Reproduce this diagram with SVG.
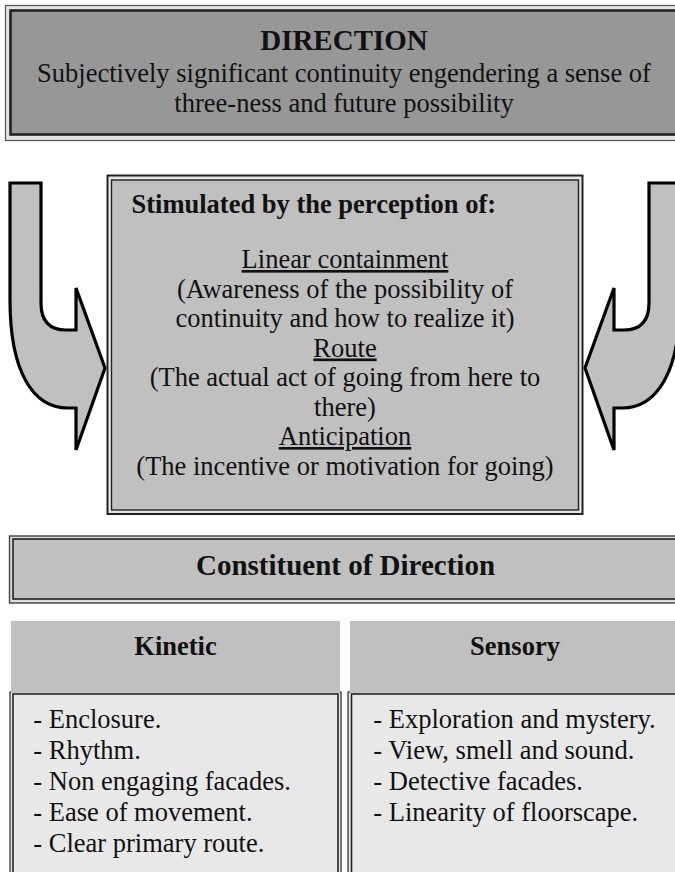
<svg xmlns="http://www.w3.org/2000/svg" width="675" height="872" viewBox="0 0 675 872">
  <style>
    text { font-family: "Liberation Serif", "Times New Roman", serif; fill: #111; }
    .title { font-size: 29px; font-weight: bold; text-anchor: middle; }
    .head { font-size: 26.5px; font-weight: bold; }
    .body { font-size: 26.5px; }
    .mid { text-anchor: middle; }
    .ul { text-decoration: underline; }
    .arrow { fill: #c0c0c0; stroke: #000; stroke-width: 3.2; stroke-linejoin: miter; }
    .frame-out { stroke: #444; stroke-width: 1.4; }
    .frame-in { stroke: #222; stroke-width: 1.6; }
  </style>
  <defs>
    <!-- bent block arrow: vertical shaft turning right into a head -->
    <path id="bentArrow" d="M10,183 H41 V303 Q41,330 66,330 H76 V288 L105,368 L76,450 V408 H68 C33,408 10,372 10,300 Z"/>
  </defs>

  <rect width="675" height="872" fill="#fff"/>

  <!-- DIRECTION banner -->
  <g id="direction">
    <rect x="5.5" y="5.5" width="680" height="135" fill="#e4e4e4" stroke="#555" stroke-width="1.2"/>
    <rect x="10.5" y="10.5" width="670" height="124" fill="#979797" stroke="#222" stroke-width="2.6"/>
    <text class="title" x="344" y="50">DIRECTION</text>
    <text class="body mid" x="344" y="81.5">Subjectively significant continuity engendering a sense of</text>
    <text class="body mid" x="344" y="111.5">three-ness and future possibility</text>
  </g>

  <!-- block arrows pointing into the perception box -->
  <g id="arrows">
    <use href="#bentArrow" class="arrow"/>
    <use href="#bentArrow" class="arrow" transform="translate(690,0) scale(-1,1)"/>
  </g>

  <!-- perception box -->
  <g id="perception">
    <rect x="107.5" y="175.5" width="475" height="338.5" fill="#e6e6e6" stroke="#222" stroke-width="2"/>
    <rect x="111.5" y="180" width="467" height="330" fill="#c0c0c0" stroke="#222" stroke-width="1.4"/>
    <text class="head" x="131.5" y="213">Stimulated by the perception of:</text>
    <text class="body mid ul" x="345" y="268">Linear containment</text>
    <text class="body mid" x="345" y="297.5">(Awareness of the possibility of</text>
    <text class="body mid" x="345" y="327">continuity and how to realize it)</text>
    <text class="body mid ul" x="345" y="356.5">Route</text>
    <text class="body mid" x="345" y="386">(The actual act of going from here to</text>
    <text class="body mid" x="345" y="415.5">there)</text>
    <text class="body mid ul" x="345" y="445">Anticipation</text>
    <text class="body mid" x="345" y="474.5">(The incentive or motivation for going)</text>
  </g>

  <!-- Constituent banner -->
  <g id="constituent">
    <rect x="9.5" y="536" width="675" height="67" fill="#dcdcdc" class="frame-out"/>
    <rect x="13" y="539" width="668" height="60" fill="#c0c0c0" class="frame-in"/>
    <text class="title" x="345.5" y="575">Constituent of Direction</text>
  </g>

  <!-- Kinetic column -->
  <g id="kinetic">
    <rect x="10" y="692" width="331" height="200" fill="#e8e8e8" class="frame-out"/>
    <rect x="13" y="694" width="325" height="200" fill="#e8e8e8" class="frame-in"/>
    <rect x="11" y="621" width="329" height="72" fill="#c0c0c0"/>
    <text class="head mid" x="175.5" y="655">Kinetic</text>
    <text class="body" x="33.3" y="728">- Enclosure.</text>
    <text class="body" x="33.3" y="759">- Rhythm.</text>
    <text class="body" x="33.3" y="790">- Non engaging facades.</text>
    <text class="body" x="33.3" y="820.5">- Ease of movement.</text>
    <text class="body" x="33.3" y="851.5">- Clear primary route.</text>
  </g>

  <!-- Sensory column -->
  <g id="sensory">
    <rect x="348" y="692" width="340" height="200" fill="#e8e8e8" class="frame-out"/>
    <rect x="351.5" y="694" width="334" height="200" fill="#e8e8e8" class="frame-in"/>
    <rect x="350" y="621" width="335" height="72" fill="#c0c0c0"/>
    <text class="head mid" x="515" y="655">Sensory</text>
    <text class="body" x="373.3" y="728">- Exploration and mystery.</text>
    <text class="body" x="373.3" y="759">- View, smell and sound.</text>
    <text class="body" x="373.3" y="790">- Detective facades.</text>
    <text class="body" x="373.3" y="820.5">- Linearity of floorscape.</text>
  </g>
</svg>
